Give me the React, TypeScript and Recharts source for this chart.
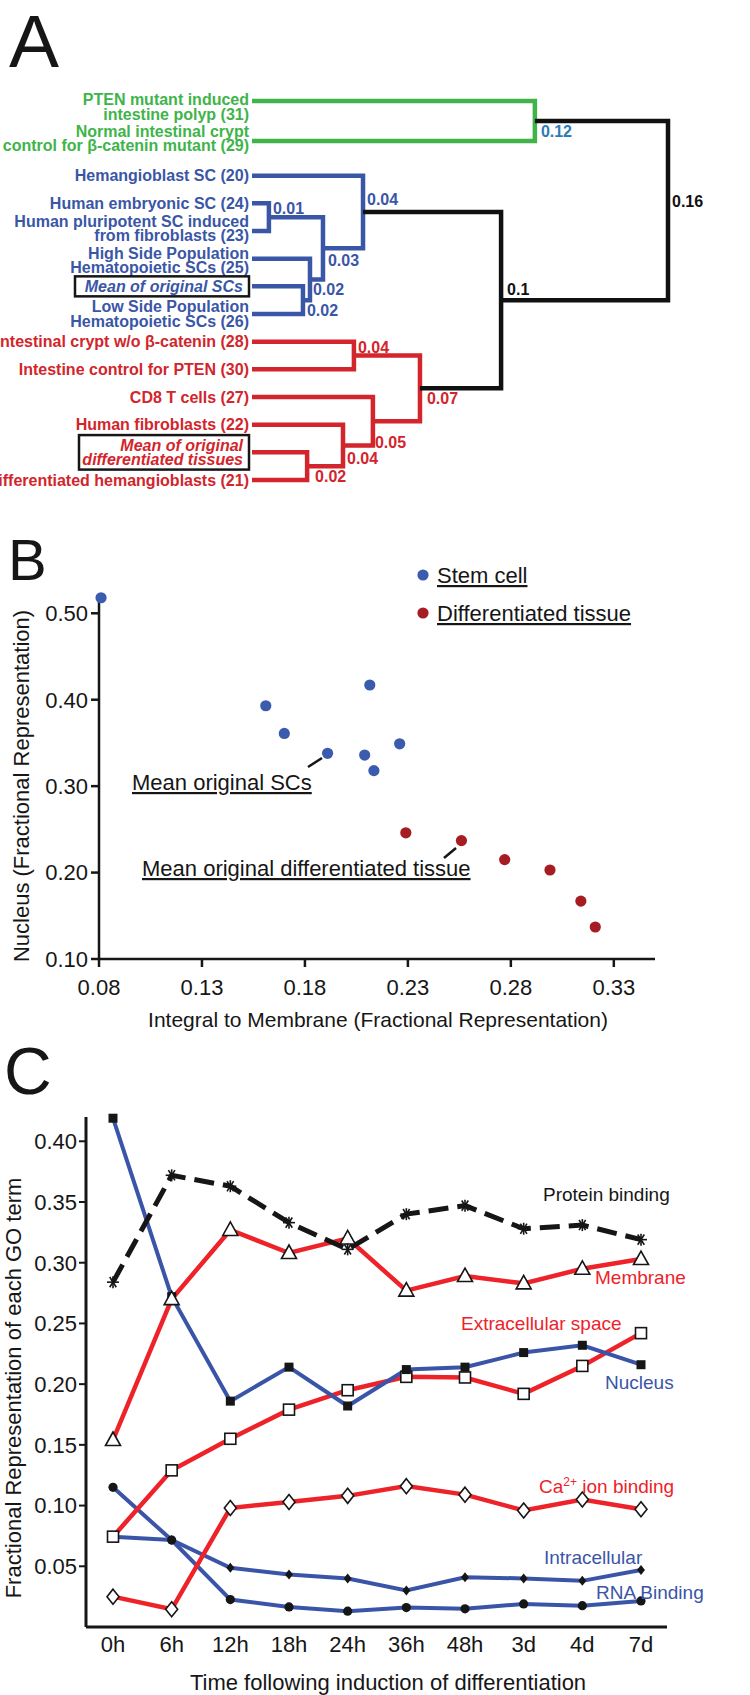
import React from "react";
import {
  ComposedChart,
  Line,
  LineChart,
  Scatter,
  ScatterChart,
  XAxis,
  YAxis,
} from "recharts";

const FONT = "'Liberation Sans', Arial, Helvetica, sans-serif";

// ---------- Panel A: dendrogram ----------
const leafLabels = [
  "PTEN mutant induced\nintestine polyp (31)",
  "Normal intestinal crypt\ncontrol for β-catenin mutant (29)",
  "Hemangioblast SC (20)",
  "Human embryonic SC (24)",
  "Human pluripotent SC induced\nfrom fibroblasts (23)",
  "High Side Population\nHematopoietic SCs (25)",
  "Mean of original SCs",
  "Low Side Population\nHematopoietic SCs (26)",
  "Intestinal crypt w/o β-catenin (28)",
  "Intestine control for PTEN (30)",
  "CD8 T cells (27)",
  "Human fibroblasts (22)",
  "Mean of original\ndifferentiated tissues",
  "Differentiated hemangioblasts (21)",
];
const leafClades = ["green", "green", "blue", "blue", "blue", "blue", "blue", "blue", "red", "red", "red", "red", "red", "red"];
const boxedLeaves = [6, 12];

// each merge joins two children: "L<i>" = leaf, "M<i>" = earlier merge
const mergeChildren = [
  ["L0", "L1"],
  ["L3", "L4"],
  ["L6", "L7"],
  ["L5", "M2"],
  ["M1", "M3"],
  ["L2", "M4"],
  ["L8", "L9"],
  ["L12", "L13"],
  ["L11", "M7"],
  ["L10", "M8"],
  ["M6", "M9"],
  ["M5", "M10"],
  ["M0", "M11"],
];
const mergeHeights = [0.1088, 0.0065, 0.0196, 0.0223, 0.0273, 0.0427, 0.0392, 0.0212, 0.035, 0.0465, 0.0646, 0.0958, 0.16];
const mergeLabels = ["0.12", "0.01", "0.02", "0.02", "0.03", "0.04", "0.04", "0.02", "0.04", "0.05", "0.07", "0.1", "0.16"];
const mergeClades = ["green", "blue", "blue", "blue", "blue", "blue", "red", "red", "red", "red", "red", "black", "black"];
const mergeLabelClades = ["teal", "blue", "blue", "blue", "blue", "blue", "red", "red", "red", "red", "red", "black", "black"];

// ---------- Panel B: scatter ----------
const stemX = [0.081, 0.161, 0.17, 0.191, 0.209, 0.2115, 0.2135, 0.226];
const stemY = [0.518, 0.393, 0.361, 0.338, 0.336, 0.417, 0.318, 0.349];
const diffX = [0.229, 0.256, 0.277, 0.299, 0.314, 0.321];
const diffY = [0.246, 0.237, 0.215, 0.203, 0.167, 0.137];
const scatterXTicks = [0.08, 0.13, 0.18, 0.23, 0.28, 0.33];
const scatterYTicks = [0.1, 0.2, 0.3, 0.4, 0.5];

// ---------- Panel C: time course ----------
const timePoints = ["0h", "6h", "12h", "18h", "24h", "36h", "48h", "3d", "4d", "7d"];
const proteinBinding = [0.284, 0.372, 0.363, 0.333, 0.311, 0.34, 0.347, 0.328, 0.331, 0.319];
const membrane = [0.154, 0.27, 0.327, 0.308, 0.32, 0.277, 0.289, 0.283, 0.295, 0.303];
const nucleus = [0.419, 0.272, 0.186, 0.214, 0.182, 0.212, 0.214, 0.226, 0.232, 0.216];
const extracellular = [0.0744, 0.129, 0.155, 0.179, 0.195, 0.206, 0.2055, 0.192, 0.215, 0.242];
const caBinding = [0.025, 0.0146, 0.098, 0.103, 0.108, 0.116, 0.109, 0.096, 0.105, 0.097];
const intracellular = [0.0744, 0.0716, 0.0488, 0.0433, 0.04, 0.03, 0.041, 0.04, 0.038, 0.047];
const rnaBinding = [0.115, 0.0716, 0.0226, 0.0165, 0.013, 0.016, 0.015, 0.019, 0.0176, 0.0215];
const timeYTicks = [0.05, 0.1, 0.15, 0.2, 0.25, 0.3, 0.35, 0.4];

const cladeColors: Record<string, string> = {
  green: "#40b44a",
  blue: "#3a56a6",
  red: "#d2252c",
  black: "#111111",
  teal: "#2a7cb8",
};
const RED = "#ee2229";
const BLUE = "#3a55a7";
const INK = "#161616";

// vertical layout of leaves (extra room after the two-line green labels)
const leafSlot = (i: number) => i + (i >= 1 ? 0.45 : 0) + (i >= 2 ? 0.25 : 0);
const leafSlots = leafLabels.map((_, i) => leafSlot(i));
const labelShift: Record<number, number> = { 0: 6, 1: -3, 4: -2.5, 5: 1.5 };
const boxLeft: Record<number, number> = { 6: 75, 12: 79 };
const nodeLabelOffsets = [
  [6, 10], [4, -9], [4, 10], [3, 10], [5, 12], [4, -13], [4, -8],
  [8, 10], [4, 13], [2, 21], [7, 10], [6, -11], [4, -9],
];

function nodePos(ref: string): { x: number; y: number } {
  const idx = Number(ref.slice(1));
  if (ref[0] === "L") return { x: 0, y: leafSlot(idx) };
  const a = nodePos(mergeChildren[idx][0]);
  const b = nodePos(mergeChildren[idx][1]);
  return { x: mergeHeights[idx], y: (a.y + b.y) / 2 };
}

const branchPaths = mergeChildren.map(([ca, cb], m) => {
  const a = nodePos(ca);
  const b = nodePos(cb);
  const h = mergeHeights[m];
  return [
    { x: a.x, y: a.y },
    { x: h, y: a.y },
    { x: h, y: b.y },
    { x: b.x, y: b.y },
  ];
});
const nodeLabelData = mergeChildren.map((_, m) => {
  const p = nodePos("M" + m);
  return { x: p.x, y: p.y, m, label: mergeLabels[m] };
});

function LeafTick(props: any) {
  const { y, payload } = props;
  const i = leafSlots.findIndex((s) => Math.abs(s - payload.value) < 1e-6);
  if (i < 0) return null;
  const lines = leafLabels[i].split("\n");
  const boxed = boxedLeaves.includes(i);
  const right = boxed ? 243 : 249;
  const lh = 14.5;
  const y0 = y - ((lines.length - 1) * lh) / 2 + (labelShift[i] || 0);
  const color = cladeColors[leafClades[i]];
  return (
    <g>
      {boxed && (
        <rect
          x={boxLeft[i]}
          y={y0 - 10}
          width={249 - boxLeft[i]}
          height={(lines.length - 1) * lh + 20}
          fill="none"
          stroke={INK}
          strokeWidth={2.5}
        />
      )}
      <text
        textAnchor="end"
        fontFamily={FONT}
        fontWeight="bold"
        fontStyle={boxed ? "italic" : "normal"}
        fontSize={16}
        fill={color}
      >
        {lines.map((l, k) => (
          <tspan key={k} x={right} y={y0 + k * lh + 5.7}>
            {l}
          </tspan>
        ))}
      </text>
    </g>
  );
}

function NodeLabel(props: any) {
  const { cx, cy, payload } = props;
  if (cx == null || cy == null) return null;
  const off = nodeLabelOffsets[payload.m];
  return (
    <text
      x={cx + off[0]}
      y={cy + off[1] + 5.7}
      fontFamily={FONT}
      fontWeight="bold"
      fontSize={16}
      fill={cladeColors[mergeLabelClades[payload.m]]}
    >
      {payload.label}
    </text>
  );
}

function Dendrogram() {
  return (
    <ComposedChart width={750} height={500} margin={{ top: 101, right: 82, bottom: 20, left: 0 }}>
      <XAxis type="number" dataKey="x" domain={[0, 0.16]} hide />
      <YAxis
        type="number"
        dataKey="y"
        domain={[0, 13.7]}
        reversed
        width={252}
        ticks={leafSlots}
        interval={0}
        axisLine={false}
        tickLine={false}
        tick={<LeafTick />}
      />
      {branchPaths.map((pts, m) => (
        <Line
          key={m}
          data={pts}
          dataKey="y"
          type="linear"
          stroke={cladeColors[mergeClades[m]]}
          strokeWidth={4.5}
          strokeLinejoin="miter"
          dot={false}
          activeDot={false}
          isAnimationActive={false}
        />
      ))}
      <Scatter data={nodeLabelData} dataKey="y" shape={NodeLabel} isAnimationActive={false} />
    </ComposedChart>
  );
}

// ---------- Panel B ----------
const stemData = stemX.map((x, i) => ({ x, y: stemY[i] }));
const diffData = diffX.map((x, i) => ({ x, y: diffY[i] }));
const STEM = "#3b5bae";
const DIFF = "#a51d22";

function NucleusScatter() {
  const axisStyle = { stroke: INK, strokeWidth: 2.5 };
  const tickStyle = { fill: INK, fontSize: 22, fontFamily: FONT };
  return (
    <ScatterChart width={750} height={530} margin={{ top: 96, right: 95, bottom: 41, left: 0 }}>
      <XAxis
        type="number"
        dataKey="x"
        domain={[0.08, 0.35]}
        ticks={scatterXTicks}
        tickFormatter={(v: number) => v.toFixed(2)}
        axisLine={axisStyle}
        tickLine={axisStyle}
        tickSize={8}
        tickMargin={12}
        tick={tickStyle}
        interval={0}
      />
      <YAxis
        type="number"
        dataKey="y"
        domain={[0.1, 0.52]}
        ticks={scatterYTicks}
        tickFormatter={(v: number) => v.toFixed(2)}
        width={99}
        axisLine={axisStyle}
        tickLine={axisStyle}
        tickSize={8}
        tickMargin={3}
        tick={tickStyle}
        interval={0}
      />
      <Scatter
        data={stemData}
        isAnimationActive={false}
        shape={(p: any) => <circle cx={p.cx} cy={p.cy} r={5.6} fill={STEM} />}
      />
      <Scatter
        data={diffData}
        isAnimationActive={false}
        shape={(p: any) => <circle cx={p.cx} cy={p.cy} r={5.6} fill={DIFF} />}
      />
    </ScatterChart>
  );
}

// ---------- Panel C markers ----------
function Star(p: any) {
  const { cx, cy } = p;
  const r = 6;
  return (
    <g stroke={INK} strokeWidth={1.6}>
      <line x1={cx - r} y1={cy} x2={cx + r} y2={cy} />
      <line x1={cx - r * 0.55} y1={cy - r * 0.85} x2={cx + r * 0.55} y2={cy + r * 0.85} />
      <line x1={cx - r * 0.55} y1={cy + r * 0.85} x2={cx + r * 0.55} y2={cy - r * 0.85} />
      <line x1={cx} y1={cy - r} x2={cx} y2={cy + r} />
    </g>
  );
}
function Triangle(p: any) {
  const { cx, cy } = p;
  return (
    <polygon
      points={`${cx},${cy - 8} ${cx - 7.5},${cy + 5.5} ${cx + 7.5},${cy + 5.5}`}
      fill="#fff"
      stroke={INK}
      strokeWidth={1.6}
    />
  );
}
function FilledSquare(p: any) {
  return <rect x={p.cx - 4.5} y={p.cy - 4.5} width={9} height={9} fill={INK} />;
}
function OpenSquare(p: any) {
  return <rect x={p.cx - 5.5} y={p.cy - 5.5} width={11} height={11} fill="#fff" stroke={INK} strokeWidth={1.6} />;
}
function OpenDiamond(p: any) {
  const { cx, cy } = p;
  return (
    <polygon
      points={`${cx},${cy - 7.5} ${cx + 6},${cy} ${cx},${cy + 7.5} ${cx - 6},${cy}`}
      fill="#fff"
      stroke={INK}
      strokeWidth={1.6}
    />
  );
}
function SmallDiamond(p: any) {
  const { cx, cy } = p;
  return <polygon points={`${cx},${cy - 5} ${cx + 4},${cy} ${cx},${cy + 5} ${cx - 4},${cy}`} fill={INK} />;
}
function Dot(p: any) {
  return <circle cx={p.cx} cy={p.cy} r={4.6} fill={INK} />;
}

const timeRows = timePoints.map((t, i) => ({
  t,
  pb: proteinBinding[i],
  mem: membrane[i],
  nuc: nucleus[i],
  ext: extracellular[i],
  ca: caBinding[i],
  intra: intracellular[i],
  rna: rnaBinding[i],
}));

const mk = (Comp: any) => (p: any) => <Comp key={p.index} cx={p.cx} cy={p.cy} />;

function TimeCourse() {
  const axisStyle = { stroke: INK, strokeWidth: 3 };
  const tickStyle = { fill: INK, fontSize: 22, fontFamily: FONT };
  return (
    <LineChart width={750} height={665} data={timeRows} margin={{ top: 87, right: 83, bottom: 38, left: 0 }}>
      <XAxis
        dataKey="t"
        padding={{ left: 27, right: 26 }}
        axisLine={axisStyle}
        tickLine={false}
        tickSize={0}
        tickMargin={9}
        tick={tickStyle}
        interval={0}
      />
      <YAxis
        type="number"
        domain={[0, 0.42]}
        ticks={timeYTicks}
        tickFormatter={(v: number) => v.toFixed(2)}
        width={86}
        axisLine={axisStyle}
        tickLine={{ stroke: INK, strokeWidth: 2 }}
        tickSize={7}
        tickMargin={2}
        tick={tickStyle}
        interval={0}
      />
      <Line dataKey="rna" type="linear" stroke={BLUE} strokeWidth={4} dot={mk(Dot)} activeDot={false} isAnimationActive={false} />
      <Line dataKey="intra" type="linear" stroke={BLUE} strokeWidth={4} dot={mk(SmallDiamond)} activeDot={false} isAnimationActive={false} />
      <Line dataKey="ca" type="linear" stroke={RED} strokeWidth={4.5} dot={mk(OpenDiamond)} activeDot={false} isAnimationActive={false} />
      <Line dataKey="ext" type="linear" stroke={RED} strokeWidth={4.5} dot={mk(OpenSquare)} activeDot={false} isAnimationActive={false} />
      <Line dataKey="nuc" type="linear" stroke={BLUE} strokeWidth={4} dot={mk(FilledSquare)} activeDot={false} isAnimationActive={false} />
      <Line dataKey="mem" type="linear" stroke={RED} strokeWidth={4.5} dot={mk(Triangle)} activeDot={false} isAnimationActive={false} />
      <Line
        dataKey="pb"
        type="linear"
        stroke={INK}
        strokeWidth={5}
        strokeDasharray="20 9"
        dot={mk(Star)}
        activeDot={false}
        isAnimationActive={false}
      />
    </LineChart>
  );
}

function Annotations() {
  const t = { fontFamily: FONT, fill: INK };
  return (
    <svg
      width={750}
      height={1695}
      style={{ position: "absolute", left: 0, top: 0, pointerEvents: "none" }}
    >
      <text x={9} y={67} fontSize={75} {...t}>A</text>
      <text x={8} y={580} fontSize={58} {...t}>B</text>
      <text x={4} y={1094} fontSize={66} {...t}>C</text>

      {/* panel B legend */}
      <circle cx={423} cy={575} r={5.6} fill={STEM} />
      <text x={437} y={583} fontSize={22} {...t} textDecoration="underline">Stem cell</text>
      <circle cx={423} cy={613} r={5.6} fill={DIFF} />
      <text x={437} y={621} fontSize={22} {...t} textDecoration="underline">Differentiated tissue</text>

      {/* panel B callouts */}
      <line x1={308} y1={767} x2={322} y2={758} stroke={INK} strokeWidth={2.5} />
      <text x={132} y={790} fontSize={22} {...t} textDecoration="underline">Mean original SCs</text>
      <line x1={444} y1={858} x2={456} y2={848} stroke={INK} strokeWidth={2.5} />
      <text x={142} y={876} fontSize={22} {...t} textDecoration="underline">Mean original differentiated tissue</text>

      <text x={378} y={1027} fontSize={21} textAnchor="middle" {...t}>
        Integral to Membrane (Fractional Representation)
      </text>
      <text x={21} y={786} fontSize={22} textAnchor="middle" {...t} dy={8} transform="rotate(-90 21 786)">
        Nucleus (Fractional Representation)
      </text>

      {/* panel C series labels */}
      <text x={543} y={1201} fontSize={19} {...t}>Protein binding</text>
      <text x={595} y={1284} fontSize={19} fontFamily={FONT} fill={RED}>Membrane</text>
      <text x={461} y={1330} fontSize={19} fontFamily={FONT} fill={RED}>Extracellular space</text>
      <text x={605} y={1389} fontSize={19} fontFamily={FONT} fill={BLUE}>Nucleus</text>
      <text x={539} y={1493} fontSize={19} fontFamily={FONT} fill={RED}>
        Ca<tspan dy={-7} fontSize={12}>2+</tspan>
        <tspan dy={7}> ion binding</tspan>
      </text>
      <text x={544} y={1564} fontSize={19} fontFamily={FONT} fill={BLUE}>Intracellular</text>
      <text x={596} y={1599} fontSize={19} fontFamily={FONT} fill={BLUE}>RNA Binding</text>

      <text x={388} y={1690} fontSize={22} textAnchor="middle" {...t}>
        Time following induction of differentiation
      </text>
      <text x={12} y={1388} fontSize={22} textAnchor="middle" {...t} dy={9} transform="rotate(-90 12 1388)">
        Fractional Representation of each GO term
      </text>
    </svg>
  );
}

export default function App() {
  return (
    <div
      style={{
        position: "absolute",
        left: 0,
        top: 0,
        width: 750,
        height: 1695,
        background: "#fff",
        overflow: "hidden",
        fontFamily: FONT,
      }}
    >
      <div style={{ position: "absolute", left: 0, top: 0 }}>
        <Dendrogram />
      </div>
      <div style={{ position: "absolute", left: 0, top: 500 }}>
        <NucleusScatter />
      </div>
      <div style={{ position: "absolute", left: 0, top: 1030 }}>
        <TimeCourse />
      </div>
      <Annotations />
    </div>
  );
}
